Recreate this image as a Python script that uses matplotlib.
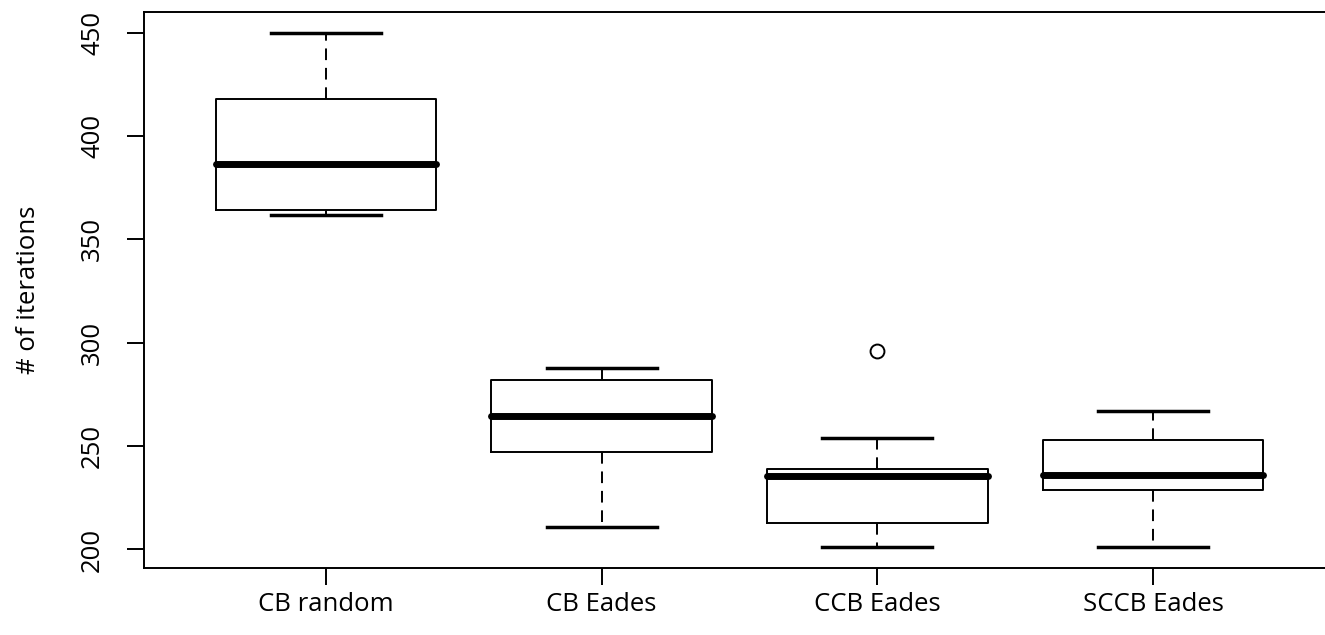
import matplotlib
matplotlib.use("Agg")
import matplotlib.pyplot as plt

# values
groups = ["CB random", "CB Eades", "CCB Eades", "SCCB Eades"]
whisker_low = [362, 211, 201, 201]
q1 = [364, 247, 213, 229]
median = [386.5, 264.5, 235.5, 236]
q3 = [418, 282, 239, 253]
whisker_high = [450, 288, 254, 267]
outliers = [[], [], [296], []]

plt.rcParams['font.family'] = ['Open Sans', 'DejaVu Sans']

stats = []
for i in range(len(groups)):
    stats.append(dict(whislo=whisker_low[i], q1=q1[i], med=median[i], q3=q3[i],
                      whishi=whisker_high[i], fliers=outliers[i], label=groups[i]))

fig = plt.figure(figsize=(13.25, 6.35), dpi=100)
ax = fig.add_axes([144 / 1325, 1 - 568 / 635, (1335 - 144) / 1325, (568 - 12) / 635])

ax.bxp(stats, positions=range(1, 5), widths=0.8, showfliers=True,
       boxprops=dict(color='black', linewidth=1.4),
       medianprops=dict(color='black', linewidth=5, solid_capstyle='round'),
       whiskerprops=dict(color='black', linewidth=1.4, linestyle=(0, (6, 4))),
       capprops=dict(color='black', linewidth=2.5),
       capwidths=0.4,
       flierprops=dict(marker='o', markerfacecolor='none', markeredgecolor='black',
                       markersize=10, markeredgewidth=1.4))

ax.set_xlim(0.34, 4.66)
ax.set_ylim(191.04, 459.96)
ax.set_yticks([200, 250, 300, 350, 400, 450])
ax.set_xticks(range(1, 5))
ax.set_xticklabels(groups)
for lbl in ax.get_yticklabels():
    lbl.set_rotation(90)
    lbl.set_va('center')
ax.tick_params(axis='both', length=12, width=1.4, labelsize=18.5)
ax.tick_params(axis='y', pad=16)
ax.tick_params(axis='x', pad=5)
ax.set_ylabel("# of iterations", fontsize=18.5, labelpad=28)
ax.spines['right'].set_visible(False)
for s in ax.spines.values():
    s.set_linewidth(1.4)

fig.savefig("out.png", dpi=100)
